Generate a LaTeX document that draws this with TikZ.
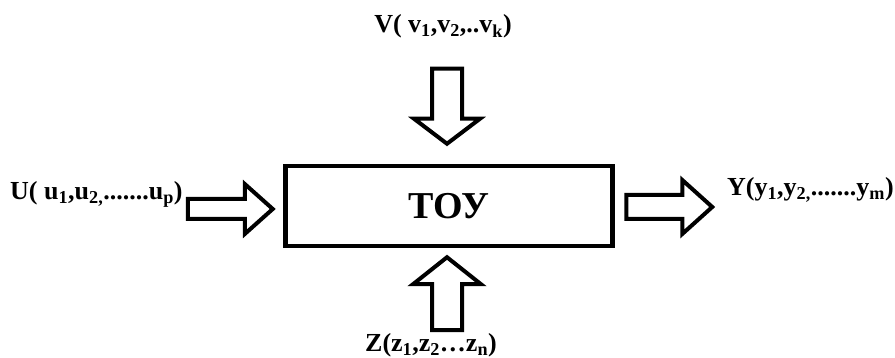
\documentclass[tikz,border=0pt]{standalone}
\usepackage{fontspec}
\setmainfont{Liberation Serif}
\usetikzlibrary{calc}
\tikzset{
  plant/.style={rectangle, draw, line width=4.5pt, minimum width=327pt, minimum height=80pt, font=\fontsize{38}{40}\selectfont\bfseries},
  lbl/.style={inner sep=0pt, font=\fontsize{26}{28}\selectfont\bfseries},
  hollow/.style={draw, line width=4pt, fill=white, line join=miter},
}
% tail, angle, length, shaft half width, head half width, head length
\newcommand{\fatarrow}[6]{%
  \draw[hollow, shift={(#1)}, rotate=#2]
    (0,-#4) -- ({#3-#6},-#4) -- ({#3-#6},-#5) -- (#3,0) -- ({#3-#6},#5) -- ({#3-#6},#4) -- (0,#4) -- cycle;}

\begin{document}
\begin{tikzpicture}[x=1pt, y=1pt]
  \useasboundingbox (0,0) rectangle (895,358);
  \node[plant] (toy) at (449,152) {ТОУ};

  % signals
  \node[lbl, anchor=base west] (ulab) at (10,158) {U( u\textsubscript{1},u\textsubscript{2,}.......u\textsubscript{p})};
  \node[lbl, anchor=base west] (ylab) at (727,162) {Y(y\textsubscript{1},y\textsubscript{2,}.......y\textsubscript{m})};
  \node[lbl, anchor=base] (vlab) at (443,325) {V( v\textsubscript{1},v\textsubscript{2},..v\textsubscript{k})};
  \node[lbl, anchor=base] (zlab) at (431,6) {Z(z\textsubscript{1},z\textsubscript{2}\ldots z\textsubscript{n})};

  % arrows
  \coordinate (uin) at ([xshift=-95.5pt, yshift=-3pt]toy.west);
  \coordinate (yout) at ([xshift=11.5pt, yshift=-1pt]toy.east);
  \coordinate (vin) at ([xshift=-2pt, yshift=95pt]toy.north);
  \coordinate (zin) at ([xshift=-2pt, yshift=-82pt]toy.south);
  \fatarrow{uin}{0}{85}{10}{25}{28}
  \fatarrow{yout}{0}{86}{12}{27}{30}
  \fatarrow{vin}{-90}{75}{15}{33}{25}
  \fatarrow{zin}{90}{73}{15}{34}{27}
\end{tikzpicture}
\end{document}
